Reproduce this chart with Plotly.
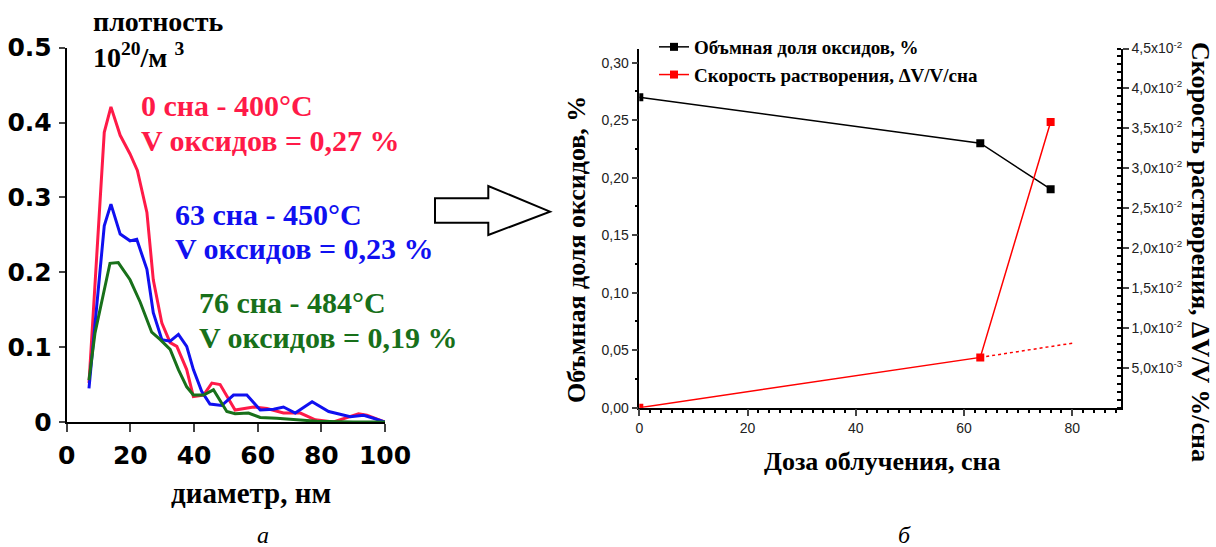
import plotly.graph_objects as go

W, H = 1216, 547

# ---------------- data: panel (a) ----------------
red_d = [7, 11.8, 13.9, 16.8, 19.9, 22.2, 25.2, 27.2, 29.9, 32.5, 34.6, 37.7, 39.8, 43, 45.6, 48.2,
         52.9, 58.7, 62.9, 68.1, 73.4, 78.1, 83.8, 89.1, 91.7, 94.3, 100]
red_n = [0.052, 0.387, 0.421, 0.383, 0.358, 0.336, 0.28, 0.19, 0.132, 0.106, 0.101, 0.07, 0.034, 0.036,
         0.052, 0.05, 0.016, 0.02, 0.018, 0.012, 0.012, 0.003, 0.0, 0.007, 0.011, 0.009, 0.0]
blue_d = [7, 11.8, 13.9, 16.8, 19.9, 22.0, 25.2, 27.2, 29.9, 32.5, 35.1, 37.7, 39.8, 42.4, 45, 48.7,
          52.4, 56.6, 60.8, 65, 68.1, 71.8, 77.1, 82.3, 89.1, 93.3, 96.4, 100]
blue_n = [0.045, 0.262, 0.291, 0.251, 0.242, 0.244, 0.204, 0.146, 0.11, 0.108, 0.117, 0.101, 0.07, 0.041,
          0.024, 0.022, 0.036, 0.036, 0.016, 0.017, 0.02, 0.012, 0.027, 0.014, 0.007, 0.009, 0.005, 0.0]
green_d = [7, 8.9, 13.6, 16.2, 19.9, 23.1, 26.7, 29.4, 32.5, 35.1, 37.7, 39.8, 43, 46.1, 50.3, 52.9,
           57.1, 60.8, 66, 73.4, 78.6, 90, 100]
green_n = [0.056, 0.119, 0.212, 0.213, 0.19, 0.16, 0.12, 0.11, 0.097, 0.07, 0.047, 0.036, 0.036, 0.043,
           0.014, 0.011, 0.012, 0.006, 0.005, 0.003, 0.001, 0.0, 0.0]

a_xticks = [0, 20, 40, 60, 80, 100]
a_yticks = [0, 0.1, 0.2, 0.3, 0.4, 0.5]
a_yticktext = ["0", "0.1", "0.2", "0.3", "0.4", "0.5"]

# ---------------- data: panel (б) ----------------
dose = [0, 63, 76]
vol_frac = [0.27, 0.23, 0.19]
rate = [0.0, 0.0063, 0.0358]
rate_extrap_dose = [63, 80.2]
rate_extrap = [0.0063, 0.0081]

b_yticks = [0, 0.05, 0.10, 0.15, 0.20, 0.25, 0.30]
b_yticktext = ["0,00", "0,05", "0,10", "0,15", "0,20", "0,25", "0,30"]
b_y2ticks = [0.005, 0.010, 0.015, 0.020, 0.025, 0.030, 0.035, 0.040, 0.045]
b_y2ticktext = ["5,0x10<sup>-3</sup>", "1,0x10<sup>-2</sup>", "1,5x10<sup>-2</sup>", "2,0x10<sup>-2</sup>",
                "2,5x10<sup>-2</sup>", "3,0x10<sup>-2</sup>", "3,5x10<sup>-2</sup>", "4,0x10<sup>-2</sup>",
                "4,5x10<sup>-2</sup>"]
b_xticks = [0, 20, 40, 60, 80]

RED_A = "#ff1a48"
BLUE_A = "#1010f0"
GREEN_A = "#18701a"


def px(x):
    return x / W


def py(y):
    return 1 - y / H


fig = go.Figure()

for xs, ys, c in [(red_d, red_n, RED_A), (blue_d, blue_n, BLUE_A), (green_d, green_n, GREEN_A)]:
    fig.add_trace(go.Scatter(x=xs, y=ys, mode="lines", line=dict(color=c, width=3),
                             xaxis="x", yaxis="y", showlegend=False))

fig.add_trace(go.Scatter(x=dose, y=vol_frac, mode="lines+markers", name="Объмная доля оксидов, %",
                         line=dict(color="black", width=1.5), marker=dict(symbol="square", size=8, color="black"),
                         xaxis="x2", yaxis="y2"))
fig.add_trace(go.Scatter(x=dose, y=rate, mode="lines+markers", name="Скорость растворения, ΔV/V/сна",
                         line=dict(color="red", width=1.5), marker=dict(symbol="square", size=8, color="red"),
                         xaxis="x2", yaxis="y3"))
fig.add_trace(go.Scatter(x=rate_extrap_dose, y=rate_extrap, mode="lines", showlegend=False,
                         line=dict(color="red", width=1.5, dash="dot"), xaxis="x2", yaxis="y3"))

bold_sans = dict(family="DejaVu Sans", size=25, color="black", weight="bold")
tick_b = dict(family="Liberation Sans", size=14, color="#222222")

fig.update_layout(
    width=W, height=H, margin=dict(l=0, r=0, t=0, b=0, autoexpand=False),
    paper_bgcolor="white", plot_bgcolor="white",
    xaxis=dict(domain=[px(66.7), px(385)], range=[0, 100], anchor="y",
               tickvals=a_xticks, ticks="outside", ticklen=8, tickwidth=2,
               showline=True, linecolor="black", linewidth=2, showgrid=False, zeroline=False,
               tickfont=bold_sans, ticklabelstandoff=2, automargin=False),
    yaxis=dict(domain=[py(422), py(47.7)], range=[0, 0.5], anchor="x",
               tickvals=a_yticks, ticktext=a_yticktext, ticks="outside", ticklen=6, tickwidth=2,
               showline=True, linecolor="black", linewidth=2, showgrid=False, zeroline=False,
               tickfont=bold_sans, ticklabelstandoff=2, automargin=False),
    xaxis2=dict(domain=[px(639.3), px(1121)], range=[0, 89], anchor="y2",
                tickvals=b_xticks, ticks="outside", ticklen=7, tickwidth=1.5,
                minor=dict(dtick=2, tick0=0, ticks="outside", ticklen=4, tickwidth=1.5, tickcolor="black"),
                showline=True, linecolor="black", linewidth=1.5, showgrid=False, zeroline=False,
                tickfont=tick_b, automargin=False),
    yaxis2=dict(domain=[py(407.7), py(48.5)], range=[0, (407.7 - 48.5) / 1150], anchor="x2",
                tickvals=b_yticks, ticktext=b_yticktext, ticks="outside", ticklen=6, tickwidth=1.5,
                minor=dict(dtick=0.025, tick0=0, ticks="outside", ticklen=3, tickwidth=1.5, tickcolor="black"),
                showline=True, linecolor="black", linewidth=1.5, showgrid=False, zeroline=False,
                tickfont=tick_b, automargin=False),
    yaxis3=dict(overlaying="y2", side="right", anchor="x2", range=[0, 0.045],
                tickvals=b_y2ticks, ticktext=b_y2ticktext, ticks="outside", ticklen=6, tickwidth=1.5,
                minor=dict(dtick=0.001, tick0=0, ticks="inside", ticklen=4, tickwidth=1.5, tickcolor="black"),
                showline=True, linecolor="black", linewidth=1.5, showgrid=False, zeroline=False,
                tickfont=tick_b, automargin=False),
    legend=dict(x=px(654), y=py(28), xanchor="left", yanchor="top", bgcolor="rgba(0,0,0,0)",
                font=dict(family="Liberation Serif", size=19, color="black", weight="bold"),
                tracegroupgap=0, itemwidth=30),
)

serif = "Liberation Serif, Times New Roman, serif"
ann = []


def text(x, y, s, size, color="black", xanchor="left", angle=0, italic=False):
    if italic:
        s = "<i>" + s + "</i>"
    else:
        s = "<b>" + s + "</b>"
    ann.append(dict(x=px(x), y=py(y), xref="paper", yref="paper", text=s, showarrow=False,
                    xanchor=xanchor, yanchor="middle", textangle=angle,
                    font=dict(family=serif, size=size, color=color)))


text(91, 22, "плотность", 28)
text(91, 55, "10<sup>20</sup>/м <sup>3</sup>", 28)
text(139, 106, "0 сна - 400°C", 30, RED_A)
text(139, 141, "V оксидов = 0,27 %", 30, RED_A)
text(173, 214, "63 сна - 450°C", 30, BLUE_A)
text(173, 249, "V оксидов = 0,23 %", 30, BLUE_A)
text(197, 302, "76 сна - 484°C", 30, GREEN_A)
text(197, 337, "V оксидов = 0,19 %", 30, GREEN_A)
text(251, 493, "диаметр, нм", 29, xanchor="center")
text(263, 535, "а", 24, xanchor="center", italic=True)
text(905, 535, "б", 24, xanchor="center", italic=True)
text(882, 461, "Доза облучения, сна", 26, xanchor="center")
text(576, 250, "Объмная доля оксидов, %", 26, xanchor="center", angle=-90)
text(1201, 252, "Скорость растворения, ΔV/V %/сна", 26, xanchor="center", angle=90)
fig.update_layout(annotations=ann)

arrow = [(435, 198.3), (488.3, 198.3), (488.3, 186), (550, 211.7), (488.3, 235), (488.3, 222.7), (435, 222.7)]
path = "M " + " L ".join(f"{px(a):.5f},{py(b):.5f}" for a, b in arrow) + " Z"
fig.add_shape(type="path", path=path, xref="paper", yref="paper",
              line=dict(color="black", width=2), fillcolor="white")

fig.write_html("out.html")
